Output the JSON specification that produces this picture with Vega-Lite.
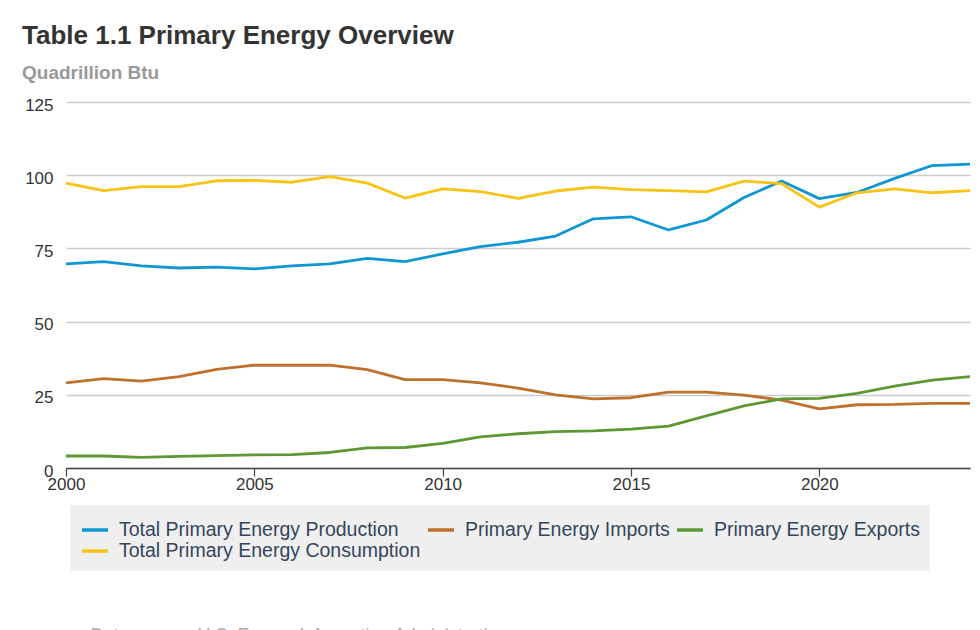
{
  "$schema": "https://vega.github.io/schema/vega-lite/v6.json",
  "autosize": {"type": "none"},
  "width": 904,
  "height": 366,
  "padding": {"left": 66, "top": 102, "right": 10, "bottom": 162},
  "background": "white",
  "config": {
    "font": "Liberation Sans",
    "view": {"stroke": null}
  },
  "title": {
    "text": "Table 1.1 Primary Energy Overview",
    "subtitle": "Quadrillion Btu",
    "anchor": "start",
    "frame": "group",
    "dx": -44,
    "offset": 13,
    "font": "Liberation Sans",
    "fontSize": 26,
    "fontWeight": "bold",
    "color": "#333333",
    "subtitleFont": "Liberation Sans",
    "subtitleFontSize": 19,
    "subtitleFontWeight": "bold",
    "subtitleColor": "#999999",
    "subtitlePadding": 15
  },
  "data": {
    "values": [
      {"year": 2000, "series": "Total Primary Energy Production", "value": 69.7},
      {"year": 2001, "series": "Total Primary Energy Production", "value": 70.5},
      {"year": 2002, "series": "Total Primary Energy Production", "value": 69.0},
      {"year": 2003, "series": "Total Primary Energy Production", "value": 68.3},
      {"year": 2004, "series": "Total Primary Energy Production", "value": 68.6},
      {"year": 2005, "series": "Total Primary Energy Production", "value": 68.0},
      {"year": 2006, "series": "Total Primary Energy Production", "value": 69.0},
      {"year": 2007, "series": "Total Primary Energy Production", "value": 69.7},
      {"year": 2008, "series": "Total Primary Energy Production", "value": 71.6},
      {"year": 2009, "series": "Total Primary Energy Production", "value": 70.5},
      {"year": 2010, "series": "Total Primary Energy Production", "value": 73.1},
      {"year": 2011, "series": "Total Primary Energy Production", "value": 75.6},
      {"year": 2012, "series": "Total Primary Energy Production", "value": 77.1},
      {"year": 2013, "series": "Total Primary Energy Production", "value": 79.2},
      {"year": 2014, "series": "Total Primary Energy Production", "value": 85.1},
      {"year": 2015, "series": "Total Primary Energy Production", "value": 85.8},
      {"year": 2016, "series": "Total Primary Energy Production", "value": 81.3},
      {"year": 2017, "series": "Total Primary Energy Production", "value": 84.7},
      {"year": 2018, "series": "Total Primary Energy Production", "value": 92.4},
      {"year": 2019, "series": "Total Primary Energy Production", "value": 98.0},
      {"year": 2020, "series": "Total Primary Energy Production", "value": 92.0},
      {"year": 2021, "series": "Total Primary Energy Production", "value": 94.1},
      {"year": 2022, "series": "Total Primary Energy Production", "value": 98.9},
      {"year": 2023, "series": "Total Primary Energy Production", "value": 103.3},
      {"year": 2024, "series": "Total Primary Energy Production", "value": 103.8},
      {"year": 2000, "series": "Primary Energy Imports", "value": 29.1},
      {"year": 2001, "series": "Primary Energy Imports", "value": 30.5},
      {"year": 2002, "series": "Primary Energy Imports", "value": 29.7},
      {"year": 2003, "series": "Primary Energy Imports", "value": 31.2},
      {"year": 2004, "series": "Primary Energy Imports", "value": 33.7},
      {"year": 2005, "series": "Primary Energy Imports", "value": 35.1},
      {"year": 2006, "series": "Primary Energy Imports", "value": 35.1},
      {"year": 2007, "series": "Primary Energy Imports", "value": 35.1},
      {"year": 2008, "series": "Primary Energy Imports", "value": 33.6},
      {"year": 2009, "series": "Primary Energy Imports", "value": 30.2},
      {"year": 2010, "series": "Primary Energy Imports", "value": 30.2},
      {"year": 2011, "series": "Primary Energy Imports", "value": 29.1},
      {"year": 2012, "series": "Primary Energy Imports", "value": 27.3},
      {"year": 2013, "series": "Primary Energy Imports", "value": 25.0},
      {"year": 2014, "series": "Primary Energy Imports", "value": 23.6},
      {"year": 2015, "series": "Primary Energy Imports", "value": 24.0},
      {"year": 2016, "series": "Primary Energy Imports", "value": 25.9},
      {"year": 2017, "series": "Primary Energy Imports", "value": 25.9},
      {"year": 2018, "series": "Primary Energy Imports", "value": 24.9},
      {"year": 2019, "series": "Primary Energy Imports", "value": 23.2},
      {"year": 2020, "series": "Primary Energy Imports", "value": 20.2},
      {"year": 2021, "series": "Primary Energy Imports", "value": 21.6},
      {"year": 2022, "series": "Primary Energy Imports", "value": 21.7},
      {"year": 2023, "series": "Primary Energy Imports", "value": 22.1},
      {"year": 2024, "series": "Primary Energy Imports", "value": 22.1},
      {"year": 2000, "series": "Primary Energy Exports", "value": 4.1},
      {"year": 2001, "series": "Primary Energy Exports", "value": 4.1},
      {"year": 2002, "series": "Primary Energy Exports", "value": 3.6},
      {"year": 2003, "series": "Primary Energy Exports", "value": 4.0},
      {"year": 2004, "series": "Primary Energy Exports", "value": 4.2},
      {"year": 2005, "series": "Primary Energy Exports", "value": 4.5},
      {"year": 2006, "series": "Primary Energy Exports", "value": 4.6},
      {"year": 2007, "series": "Primary Energy Exports", "value": 5.3},
      {"year": 2008, "series": "Primary Energy Exports", "value": 6.9},
      {"year": 2009, "series": "Primary Energy Exports", "value": 7.0},
      {"year": 2010, "series": "Primary Energy Exports", "value": 8.4},
      {"year": 2011, "series": "Primary Energy Exports", "value": 10.6},
      {"year": 2012, "series": "Primary Energy Exports", "value": 11.7},
      {"year": 2013, "series": "Primary Energy Exports", "value": 12.4},
      {"year": 2014, "series": "Primary Energy Exports", "value": 12.7},
      {"year": 2015, "series": "Primary Energy Exports", "value": 13.3},
      {"year": 2016, "series": "Primary Energy Exports", "value": 14.3},
      {"year": 2017, "series": "Primary Energy Exports", "value": 17.8},
      {"year": 2018, "series": "Primary Energy Exports", "value": 21.2},
      {"year": 2019, "series": "Primary Energy Exports", "value": 23.6},
      {"year": 2020, "series": "Primary Energy Exports", "value": 23.8},
      {"year": 2021, "series": "Primary Energy Exports", "value": 25.5},
      {"year": 2022, "series": "Primary Energy Exports", "value": 28.0},
      {"year": 2023, "series": "Primary Energy Exports", "value": 30.0},
      {"year": 2024, "series": "Primary Energy Exports", "value": 31.2},
      {"year": 2000, "series": "Total Primary Energy Consumption", "value": 97.3},
      {"year": 2001, "series": "Total Primary Energy Consumption", "value": 94.7},
      {"year": 2002, "series": "Total Primary Energy Consumption", "value": 96.1},
      {"year": 2003, "series": "Total Primary Energy Consumption", "value": 96.1},
      {"year": 2004, "series": "Total Primary Energy Consumption", "value": 98.1},
      {"year": 2005, "series": "Total Primary Energy Consumption", "value": 98.2},
      {"year": 2006, "series": "Total Primary Energy Consumption", "value": 97.6},
      {"year": 2007, "series": "Total Primary Energy Consumption", "value": 99.5},
      {"year": 2008, "series": "Total Primary Energy Consumption", "value": 97.3},
      {"year": 2009, "series": "Total Primary Energy Consumption", "value": 92.2},
      {"year": 2010, "series": "Total Primary Energy Consumption", "value": 95.3},
      {"year": 2011, "series": "Total Primary Energy Consumption", "value": 94.4},
      {"year": 2012, "series": "Total Primary Energy Consumption", "value": 92.1},
      {"year": 2013, "series": "Total Primary Energy Consumption", "value": 94.6},
      {"year": 2014, "series": "Total Primary Energy Consumption", "value": 95.9},
      {"year": 2015, "series": "Total Primary Energy Consumption", "value": 95.1},
      {"year": 2016, "series": "Total Primary Energy Consumption", "value": 94.7},
      {"year": 2017, "series": "Total Primary Energy Consumption", "value": 94.3},
      {"year": 2018, "series": "Total Primary Energy Consumption", "value": 98.0},
      {"year": 2019, "series": "Total Primary Energy Consumption", "value": 97.1},
      {"year": 2020, "series": "Total Primary Energy Consumption", "value": 89.1},
      {"year": 2021, "series": "Total Primary Energy Consumption", "value": 94.0},
      {"year": 2022, "series": "Total Primary Energy Consumption", "value": 95.3},
      {"year": 2023, "series": "Total Primary Energy Consumption", "value": 94.0},
      {"year": 2024, "series": "Total Primary Energy Consumption", "value": 94.7}
    ]
  },
  "mark": {"type": "line", "strokeWidth": 2.8, "strokeJoin": "round"},
  "encoding": {
    "x": {
      "field": "year",
      "type": "quantitative",
      "scale": {"domain": [2000, 2024], "nice": false, "zero": false},
      "axis": {
        "values": [2000, 2005, 2010, 2015, 2020],
        "format": "d",
        "grid": false,
        "domainColor": "#444444",
        "domainWidth": 1.5,
        "tickColor": "#444444",
        "tickWidth": 1.2,
        "tickSize": 8,
        "labelFontSize": 17,
        "labelColor": "#333333",
        "labelPadding": 0,
        "labelFlush": false,
        "title": "Data source: U.S. Energy Information Administration",
        "titleAnchor": "start",
        "titleAlign": "left",
        "titleBaseline": "alphabetic",
        "titleX": 24,
        "titleY": 172,
        "titleFontSize": 18,
        "titleFontWeight": "normal",
        "titleColor": "#aaaaaa"
      }
    },
    "y": {
      "field": "value",
      "type": "quantitative",
      "scale": {"domain": [0, 125], "nice": false},
      "axis": {
        "values": [0, 25, 50, 75, 100, 125],
        "domain": false,
        "ticks": false,
        "gridColor": "#cccccc",
        "gridWidth": 1.5,
        "labelFontSize": 17,
        "labelColor": "#333333",
        "labelPadding": 13,
        "labelBaseline": "middle",
        "labelFlush": false,
        "labelOffset": 3,
        "title": null
      }
    },
    "color": {
      "field": "series",
      "type": "nominal",
      "scale": {
        "domain": ["Total Primary Energy Production", "Primary Energy Imports", "Primary Energy Exports", "Total Primary Energy Consumption"],
        "range": ["#0f96d3", "#bd712c", "#5d9933", "#f8c315"]
      },
      "legend": {
        "title": null,
        "orient": "none",
        "legendX": 4,
        "legendY": 403,
        "direction": "horizontal",
        "columns": 3,
        "gridAlign": "none",
        "fillColor": "#efefef",
        "padding": 10,
        "symbolType": "stroke",
        "symbolStrokeWidth": 3.5,
        "symbolSize": 676,
        "labelFontSize": 19.5,
        "labelColor": "#34465c",
        "labelOffset": 9,
        "labelLimit": 400,
        "columnPadding": 0,
        "rowPadding": -4
      }
    }
  }
}
